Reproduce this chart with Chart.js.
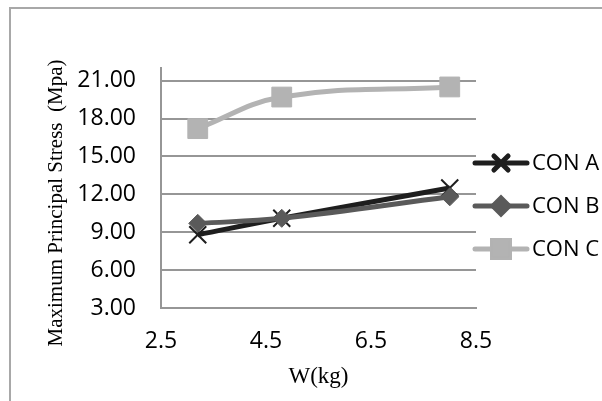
<!DOCTYPE html>
<html>
<head>
<meta charset="utf-8">
<title>Maximum Principal Stress</title>
<script src="https://cdn.jsdelivr.net/npm/chart.js@4"></script>
<style>
  html, body {
    margin: 0;
    padding: 0;
    background: #fff;
    overflow: hidden;
  }
  #wrap {
    position: relative;
    width: 602px;
    height: 401px;
  }
  #frame {
    position: absolute;
    left: 9px;
    top: 7px;
    width: 620px;
    height: 420px;
    border-left: 2px solid #a8a8a8;
    border-top: 2px solid #a8a8a8;
  }
  canvas {
    position: absolute;
    left: 0;
    top: 0;
  }
</style>
</head>
<body>
<div id="wrap">
  <div id="frame"></div>
  <canvas id="chart" width="602" height="401"></canvas>
</div>

<script>
// ─────────────────────────────────────────────
// DATA
// ─────────────────────────────────────────────
const weights = [3.2, 4.8, 8.0];          // W(kg)
const conA = [8.8, 10.1, 12.5];
const conB = [9.7, 10.1, 11.8];
const conC = [17.2, 19.7, 20.5];
const seriesNames = ['CON A', 'CON B', 'CON C'];

const xTicks = [2.5, 4.5, 6.5, 8.5];
const yTicks = [3, 6, 9, 12, 15, 18, 21];

const xTitle = 'W(kg)';
const yTitle = 'Maximum Principal Stress  (Mpa)';

// ─────────────────────────────────────────────
// HELPERS
// ─────────────────────────────────────────────
function toPoints(ys) {
  return weights.map((w, i) => ({ x: w, y: ys[i] }));
}

const tickFont = { family: '"Open Sans", sans-serif', size: 23 };
const legendFont = { family: '"Open Sans", sans-serif', size: 22 };
const yTitleFont = { family: '"Liberation Serif", "Times New Roman", serif', size: 21 };
const xTitleFont = { family: '"Liberation Serif", "Times New Roman", serif', size: 23 };
const gridColor = '#969696';

// y title + legend drawn by hand (the legend is a line sample with the marker in the middle)
const sideLegend = {
  id: 'sideLegend',
  afterDraw(chart) {
    const ctx = chart.ctx;

    ctx.save();
    ctx.translate(56, 203);
    ctx.rotate(-Math.PI / 2);
    ctx.fillStyle = '#000';
    ctx.font = yTitleFont.size + 'px ' + yTitleFont.family;
    ctx.textAlign = 'center';
    ctx.textBaseline = 'middle';
    ctx.fillText(yTitle, 0, 0);
    ctx.restore();

    const x0 = 475, x1 = 527, rows = [163, 206, 249];
    chart.data.datasets.forEach((ds, i) => {
      const y = rows[i];
      ctx.save();
      ctx.strokeStyle = ds.borderColor;
      ctx.lineWidth = ds.borderWidth;
      ctx.lineCap = 'round';
      ctx.beginPath();
      ctx.moveTo(x0, y);
      ctx.lineTo(x1, y);
      ctx.stroke();
      Chart.helpers.drawPoint(ctx, {
        pointStyle: ds.pointStyle,
        radius: ds.legendRadius,
        borderWidth: ds.pointBorderWidth,
        rotation: 0
      }, (x0 + x1) / 2, y);
      ctx.fillStyle = ds.pointBackgroundColor;
      ctx.strokeStyle = ds.pointBorderColor;
      ctx.lineWidth = ds.pointBorderWidth;
      ctx.fill();
      ctx.stroke();
      ctx.fillStyle = '#000';
      ctx.font = legendFont.size + 'px ' + legendFont.family;
      ctx.textBaseline = 'middle';
      ctx.textAlign = 'left';
      ctx.fillText(ds.label, 532, y + 1);
      ctx.restore();
    });
  }
};

// ─────────────────────────────────────────────
// CHART
// ─────────────────────────────────────────────
const ctx = document.getElementById('chart').getContext('2d');

new Chart(ctx, {
  type: 'line',
  data: {
    datasets: [
      {
        label: seriesNames[0],
        data: toPoints(conA),
        borderColor: '#1e1e1e',
        borderWidth: 5,
        pointStyle: 'crossRot',
        pointRadius: 12,
        legendRadius: 10,
        pointBorderWidth: 2,
        pointBorderColor: '#1e1e1e',
        pointBackgroundColor: '#1e1e1e',
        tension: 0.4,
        order: 2
      },
      {
        label: seriesNames[1],
        data: toPoints(conB),
        borderColor: '#5a5a5a',
        borderWidth: 5,
        pointStyle: 'rectRot',
        pointRadius: 9,
        legendRadius: 8,
        pointBorderWidth: 1,
        pointBorderColor: '#5a5a5a',
        pointBackgroundColor: '#5a5a5a',
        tension: 0.4,
        order: 1
      },
      {
        label: seriesNames[2],
        data: toPoints(conC),
        borderColor: '#b3b3b3',
        borderWidth: 5,
        pointStyle: 'rect',
        pointRadius: 14,
        legendRadius: 12,
        pointBorderWidth: 1,
        pointBorderColor: '#b3b3b3',
        pointBackgroundColor: '#b3b3b3',
        tension: 0.4,
        order: 0
      }
    ]
  },
  options: {
    responsive: false,
    animation: false,
    layout: { padding: { left: 0, top: 68, right: 126, bottom: 0 } },
    plugins: {
      legend: { display: false },
      tooltip: { enabled: false }
    },
    scales: {
      x: {
        type: 'linear',
        min: 2.5,
        max: 8.5,
        afterBuildTicks: (s) => { s.ticks = xTicks.map(v => ({ value: v })); },
        afterFit: (s) => { s.height = 93; },
        grid: { drawOnChartArea: false, drawTicks: false },
        border: { display: true, color: gridColor, width: 2 },
        ticks: {
          font: tickFont,
          color: '#000',
          padding: 20,
          callback: (v) => Number(v).toFixed(1)
        },
        title: {
          display: true,
          text: xTitle,
          font: xTitleFont,
          color: '#000',
          padding: { top: 0, bottom: 10 }
        }
      },
      y: {
        type: 'linear',
        min: 3,
        max: 22,
        afterBuildTicks: (s) => { s.ticks = yTicks.map(v => ({ value: v })); },
        afterFit: (s) => { s.width = 161; },
        grid: { color: gridColor, lineWidth: 2, drawTicks: false },
        border: { display: true, color: gridColor, width: 2 },
        ticks: {
          font: tickFont,
          color: '#000',
          padding: 25,
          callback: (v) => Number(v).toFixed(2)
        },
        title: { display: false }
      }
    }
  },
  plugins: [sideLegend]
});
</script>
</body>
</html>
